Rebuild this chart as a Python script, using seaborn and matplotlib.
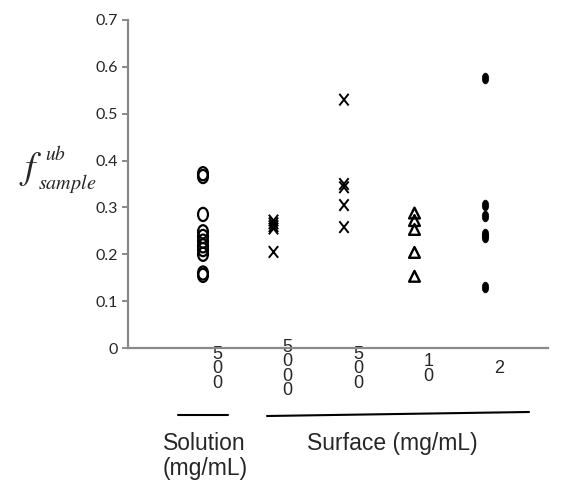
import numpy as np
import pandas as pd
import seaborn as sns
import matplotlib.pyplot as plt
from matplotlib.path import Path
from matplotlib.transforms import Affine2D
from matplotlib.lines import Line2D

# concentration labels under each column
categories = ['500', '5000', '500', '10', '2']

# f_sample^ub values
solution_500 = [0.372, 0.366, 0.285, 0.248, 0.238, 0.228, 0.218, 0.21, 0.2, 0.16, 0.155]
surface_5000 = [0.272, 0.266, 0.26, 0.255, 0.205]
surface_500 = [0.53, 0.35, 0.343, 0.305, 0.258]
surface_10 = [0.288, 0.272, 0.253, 0.204, 0.153]
surface_2 = [0.577, 0.305, 0.282, 0.243, 0.236, 0.13]

y_ticks = [0, 0.1, 0.2, 0.3, 0.4, 0.5, 0.6, 0.7]

sns.set_style('white')
plt.rcParams['font.family'] = ['Liberation Sans', 'DejaVu Sans']
plt.rcParams['mathtext.fontset'] = 'stix'

# tall marker shapes like the ones in the original
oval = Affine2D().scale(0.75, 1).transform_path(Path.unit_circle())
dot = Affine2D().scale(0.6, 1).transform_path(Path.unit_circle())
cross = Path([(-0.8, -1), (0.8, 1), (-0.8, 1), (0.8, -1)],
             [Path.MOVETO, Path.LINETO, Path.MOVETO, Path.LINETO])

fig = plt.figure(figsize=(5.62, 4.86), dpi=100)
ax = fig.add_axes([128 / 562, 1 - 348 / 486, 420 / 562, 328 / 486])

groups = [solution_500, surface_5000, surface_500, surface_10, surface_2]
for i, vals in enumerate(groups):
    df = pd.DataFrame({'x': [i] * len(vals), 'y': vals})
    if i == 0:
        sns.scatterplot(data=df, x='x', y='y', ax=ax, marker=oval, s=90,
                        color='none', edgecolor='black', linewidth=1.6)
    elif i in (1, 2):
        sns.scatterplot(data=df, x='x', y='y', ax=ax, marker=cross, s=70,
                        color='none', edgecolor='black', linewidth=1.4)
    elif i == 3:
        sns.scatterplot(data=df, x='x', y='y', ax=ax, marker='^', s=60,
                        color='none', edgecolor='black', linewidth=1.7)
    else:
        sns.scatterplot(data=df, x='x', y='y', ax=ax, marker=dot, s=60,
                        color='black', edgecolor='black', linewidth=0.5)

ax.set_xlim(-1.064, 4.894)
ax.set_ylim(0, 0.7)
ax.set_yticks(y_ticks, ['0' if v == 0 else f'{v:.1f}' for v in y_ticks])
ax.set_xticks([i + 0.2 for i in range(len(categories))],
              ['\n'.join(c) for c in categories])

for s in ['top', 'right']:
    ax.spines[s].set_visible(False)
for s in ['left', 'bottom']:
    ax.spines[s].set_color('#8a8a8a')
    ax.spines[s].set_linewidth(1.6)

ax.tick_params(axis='y', length=4, width=1.4, color='#8a8a8a', pad=3,
               labelsize=11.5, left=True)
for lab in ax.get_yticklabels():
    lab.set_family(['Lato', 'DejaVu Sans'])
ax.tick_params(axis='x', length=0, pad=15, labelsize=13)
for lab in ax.get_xticklabels():
    lab.set_verticalalignment('center')
    lab.set_linespacing(0.8)

ax.set_xlabel('')
ax.set_ylabel('')

# y label f_sample^ub: big italic f with its super/subscript
fig.text(19 / 562, 1 - 178 / 486, r'$f$', fontsize=27, va='baseline')
fig.text(45 / 562, 1 - 160 / 486, r'$ub$', fontsize=14, va='baseline')
fig.text(38 / 562, 1 - 189 / 486, r'$sample$', fontsize=14.5, va='baseline')

# group brackets and captions below the axis
fig.add_artist(Line2D([178 / 562, 228 / 562], [1 - 415 / 486, 1 - 415 / 486],
                      color='black', lw=1.5))
fig.add_artist(Line2D([267 / 562, 529 / 562], [1 - 416 / 486, 1 - 412 / 486],
                      color='black', lw=1.5))
fig.text(163 / 562, 1 - 450 / 486, 'Solution', fontsize=16.5, va='baseline')
fig.text(163 / 562, 1 - 475 / 486, '(mg/mL)', fontsize=16.5, va='baseline')
fig.text(307 / 562, 1 - 450 / 486, 'Surface (mg/mL)', fontsize=16.5, va='baseline')

fig.savefig('out.png', dpi=100)
